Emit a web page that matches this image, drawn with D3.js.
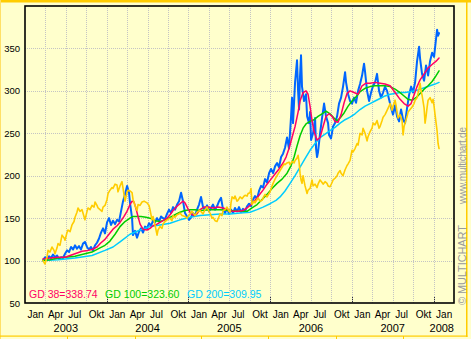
<!DOCTYPE html>
<html>
<head>
<meta charset="utf-8">
<script src="https://cdn.jsdelivr.net/npm/d3@7"></script>
<style>
  html, body { margin: 0; padding: 0; background: #ffffff; }
  svg { display: block; font-family: "Liberation Sans", Arial, sans-serif; }
</style>
</head>
<body>
<svg id="chart" width="471" height="339"></svg>
<script>
// ---- data: [decimal year, value] ----
const price = [[2003.220,100],[2003.245,104],[2003.269,101],[2003.294,105],[2003.318,103],[2003.343,107],[2003.367,104],[2003.392,106],[2003.416,102],[2003.441,104],[2003.465,103],[2003.490,108],[2003.514,112],[2003.539,110],[2003.563,116],[2003.588,113],[2003.612,118],[2003.636,114],[2003.661,117],[2003.685,113],[2003.710,120],[2003.734,122],[2003.759,116],[2003.783,113],[2003.808,116],[2003.832,112],[2003.857,118],[2003.881,121],[2003.906,126],[2003.930,133],[2003.955,138],[2003.979,132],[2004.004,145],[2004.028,150],[2004.053,142],[2004.077,147],[2004.102,143],[2004.126,148],[2004.151,146],[2004.175,158],[2004.200,170],[2004.224,178],[2004.249,188],[2004.273,180],[2004.285,168],[2004.310,150],[2004.322,130],[2004.346,135],[2004.371,127],[2004.395,134],[2004.420,138],[2004.444,133],[2004.469,140],[2004.493,138],[2004.518,144],[2004.542,141],[2004.567,147],[2004.591,145],[2004.616,150],[2004.640,146],[2004.665,152],[2004.689,150],[2004.714,149],[2004.738,155],[2004.763,160],[2004.787,156],[2004.812,163],[2004.836,160],[2004.861,166],[2004.885,170],[2004.910,180],[2004.934,170],[2004.958,156],[2004.983,152],[2005.007,148],[2005.032,151],[2005.056,156],[2005.081,153],[2005.105,160],[2005.130,166],[2005.154,175],[2005.179,163],[2005.203,160],[2005.228,165],[2005.252,158],[2005.277,162],[2005.301,166],[2005.326,160],[2005.350,164],[2005.375,170],[2005.399,174],[2005.424,160],[2005.448,156],[2005.473,162],[2005.497,155],[2005.522,160],[2005.546,156],[2005.570,162],[2005.595,158],[2005.619,163],[2005.644,157],[2005.668,161],[2005.693,158],[2005.717,164],[2005.742,167],[2005.766,164],[2005.791,172],[2005.815,176],[2005.840,173],[2005.864,182],[2005.889,188],[2005.913,186],[2005.938,196],[2005.962,192],[2005.987,203],[2006.011,208],[2006.036,203],[2006.060,211],[2006.085,215],[2006.109,210],[2006.134,222],[2006.158,226],[2006.182,233],[2006.207,245],[2006.231,232],[2006.256,270],[2006.268,292],[2006.280,262],[2006.305,310],[2006.329,336],[2006.342,300],[2006.354,278],[2006.366,318],[2006.378,342],[2006.390,305],[2006.415,288],[2006.439,296],[2006.452,270],[2006.476,262],[2006.488,275],[2006.501,242],[2006.525,250],[2006.550,268],[2006.562,232],[2006.574,222],[2006.586,228],[2006.611,250],[2006.635,268],[2006.660,285],[2006.684,270],[2006.709,262],[2006.721,248],[2006.745,244],[2006.770,258],[2006.794,262],[2006.819,270],[2006.843,285],[2006.868,292],[2006.892,305],[2006.917,322],[2006.929,310],[2006.954,296],[2006.978,288],[2007.002,285],[2007.027,292],[2007.051,286],[2007.076,300],[2007.100,308],[2007.125,318],[2007.149,332],[2007.162,322],[2007.186,300],[2007.211,288],[2007.235,298],[2007.260,306],[2007.284,310],[2007.308,320],[2007.333,300],[2007.357,292],[2007.382,298],[2007.406,305],[2007.431,300],[2007.455,290],[2007.480,280],[2007.504,272],[2007.529,283],[2007.553,270],[2007.578,264],[2007.602,278],[2007.627,266],[2007.651,262],[2007.676,280],[2007.700,295],[2007.725,305],[2007.749,298],[2007.774,310],[2007.798,335],[2007.823,352],[2007.835,338],[2007.859,320],[2007.884,312],[2007.908,330],[2007.933,318],[2007.957,335],[2007.982,345],[2008.006,340],[2008.031,362],[2008.043,372],[2008.055,365],[2008.067,368]];

const compare = [[2003.220,100],[2003.245,96],[2003.269,104],[2003.282,112],[2003.306,110],[2003.330,116],[2003.355,112],[2003.367,108],[2003.392,115],[2003.404,120],[2003.428,118],[2003.453,130],[2003.477,127],[2003.490,124],[2003.514,133],[2003.526,136],[2003.551,134],[2003.575,142],[2003.600,146],[2003.612,151],[2003.636,157],[2003.649,162],[2003.673,158],[2003.698,160],[2003.722,152],[2003.734,148],[2003.759,158],[2003.771,162],[2003.796,160],[2003.820,165],[2003.845,163],[2003.857,169],[2003.881,165],[2003.894,162],[2003.918,160],[2003.942,158],[2003.955,163],[2003.979,165],[2004.004,172],[2004.016,179],[2004.040,183],[2004.065,186],[2004.077,185],[2004.102,190],[2004.126,189],[2004.138,181],[2004.163,188],[2004.187,193],[2004.200,185],[2004.224,170],[2004.248,180],[2004.261,183],[2004.285,182],[2004.310,180],[2004.322,172],[2004.346,165],[2004.371,159],[2004.383,166],[2004.408,165],[2004.432,169],[2004.457,170],[2004.493,168],[2004.518,165],[2004.530,160],[2004.554,148],[2004.567,152],[2004.591,142],[2004.616,130],[2004.628,136],[2004.652,140],[2004.677,138],[2004.689,143],[2004.714,146],[2004.738,148],[2004.775,150],[2004.799,147],[2004.812,153],[2004.836,151],[2004.860,154],[2004.885,155],[2004.897,156],[2004.922,153],[2004.958,152],[2004.983,150],[2005.020,155],[2005.044,158],[2005.081,153],[2005.105,157],[2005.142,159],[2005.179,155],[2005.203,160],[2005.228,163],[2005.252,158],[2005.264,156],[2005.289,150],[2005.301,151],[2005.326,147],[2005.350,146],[2005.375,152],[2005.387,155],[2005.411,153],[2005.424,159],[2005.448,160],[2005.472,163],[2005.497,158],[2005.509,157],[2005.521,168],[2005.534,175],[2005.558,173],[2005.570,176],[2005.595,170],[2005.607,171],[2005.632,175],[2005.656,173],[2005.681,176],[2005.693,177],[2005.717,176],[2005.730,179],[2005.754,180],[2005.766,185],[2005.778,166],[2005.803,170],[2005.815,168],[2005.840,172],[2005.852,174],[2005.876,170],[2005.901,171],[2005.925,176],[2005.938,178],[2005.962,175],[2005.987,179],[2005.999,181],[2006.023,188],[2006.036,191],[2006.060,196],[2006.084,200],[2006.109,204],[2006.121,206],[2006.146,210],[2006.170,214],[2006.182,213],[2006.207,215],[2006.231,216],[2006.244,213],[2006.268,217],[2006.293,215],[2006.305,218],[2006.329,221],[2006.342,224],[2006.354,216],[2006.366,203],[2006.378,195],[2006.390,191],[2006.403,200],[2006.415,194],[2006.427,188],[2006.452,179],[2006.464,183],[2006.488,185],[2006.501,190],[2006.513,195],[2006.525,188],[2006.550,190],[2006.574,186],[2006.586,190],[2006.611,195],[2006.635,192],[2006.648,190],[2006.672,193],[2006.696,191],[2006.709,188],[2006.733,187],[2006.758,192],[2006.770,195],[2006.794,197],[2006.819,200],[2006.831,203],[2006.856,206],[2006.868,203],[2006.892,200],[2006.917,207],[2006.941,212],[2006.954,214],[2006.978,218],[2007.002,230],[2007.015,228],[2007.039,232],[2007.064,238],[2007.076,236],[2007.100,250],[2007.125,248],[2007.137,256],[2007.162,250],[2007.186,241],[2007.198,246],[2007.223,252],[2007.247,256],[2007.260,262],[2007.284,260],[2007.308,265],[2007.333,256],[2007.345,258],[2007.370,265],[2007.382,269],[2007.406,272],[2007.431,277],[2007.455,282],[2007.468,285],[2007.492,277],[2007.504,282],[2007.529,289],[2007.541,283],[2007.553,275],[2007.566,268],[2007.590,272],[2007.614,265],[2007.627,248],[2007.639,258],[2007.651,262],[2007.676,270],[2007.688,275],[2007.712,278],[2007.737,281],[2007.761,285],[2007.774,289],[2007.798,292],[2007.810,297],[2007.823,303],[2007.835,309],[2007.847,300],[2007.859,295],[2007.884,280],[2007.896,262],[2007.908,270],[2007.920,280],[2007.933,289],[2007.957,292],[2007.982,286],[2007.994,290],[2008.006,282],[2008.018,272],[2008.031,262],[2008.043,253],[2008.055,238],[2008.067,232]];

const gd38 = [[2003.220,102],[2003.306,103],[2003.404,104],[2003.490,104],[2003.551,106],[2003.612,108],[2003.698,111],[2003.771,112],[2003.820,113],[2003.881,116],[2003.930,121],[2003.979,125],[2004.028,131],[2004.077,137],[2004.126,141],[2004.163,145],[2004.212,152],[2004.248,158],[2004.285,166],[2004.310,170],[2004.334,169],[2004.359,161],[2004.383,152],[2004.408,143],[2004.444,137],[2004.493,136],[2004.530,138],[2004.567,141],[2004.616,143],[2004.652,145],[2004.689,147],[2004.738,150],[2004.775,154],[2004.812,159],[2004.860,164],[2004.897,167],[2004.934,170],[2004.958,168],[2004.995,161],[2005.032,155],[2005.069,153],[2005.105,155],[2005.142,160],[2005.191,163],[2005.240,163],[2005.301,162],[2005.362,163],[2005.424,162],[2005.485,160],[2005.546,158],[2005.607,158],[2005.668,159],[2005.717,162],[2005.766,166],[2005.815,171],[2005.864,177],[2005.913,183],[2005.962,190],[2006.011,196],[2006.060,202],[2006.109,208],[2006.158,215],[2006.195,222],[2006.231,232],[2006.268,245],[2006.305,258],[2006.342,275],[2006.366,288],[2006.403,298],[2006.439,300],[2006.464,296],[2006.488,282],[2006.513,265],[2006.537,252],[2006.574,242],[2006.611,245],[2006.648,258],[2006.684,270],[2006.721,273],[2006.758,270],[2006.794,264],[2006.831,263],[2006.868,272],[2006.905,286],[2006.941,297],[2006.978,300],[2007.027,298],[2007.076,296],[2007.125,306],[2007.174,309],[2007.223,309],[2007.284,310],[2007.345,309],[2007.406,308],[2007.468,306],[2007.529,298],[2007.590,290],[2007.639,285],[2007.688,282],[2007.725,285],[2007.761,295],[2007.798,305],[2007.835,313],[2007.884,320],[2007.933,327],[2007.982,331],[2008.031,335],[2008.067,338.74]];

const gd100 = [[2003.220,100],[2003.306,101],[2003.404,103],[2003.490,104],[2003.612,105],[2003.734,108],[2003.820,110],[2003.918,115],[2003.979,118],[2004.040,123],[2004.102,131],[2004.163,140],[2004.224,146],[2004.285,150],[2004.322,152],[2004.371,152],[2004.420,152],[2004.481,151],[2004.530,150],[2004.591,147],[2004.652,146],[2004.714,148],[2004.775,151],[2004.836,154],[2004.897,157],[2004.958,159],[2005.020,160],[2005.081,160],[2005.142,159],[2005.264,160],[2005.387,160],[2005.509,159],[2005.632,158],[2005.717,158],[2005.778,162],[2005.840,166],[2005.901,172],[2005.962,178],[2006.023,185],[2006.084,191],[2006.146,196],[2006.207,203],[2006.256,212],[2006.293,222],[2006.329,235],[2006.366,247],[2006.403,256],[2006.439,261],[2006.488,264],[2006.537,266],[2006.586,270],[2006.635,273],[2006.684,276],[2006.733,273],[2006.782,268],[2006.819,265],[2006.856,268],[2006.905,274],[2006.954,282],[2007.002,288],[2007.051,293],[2007.100,299],[2007.162,303],[2007.223,305],[2007.284,306],[2007.345,306],[2007.406,306],[2007.468,305],[2007.529,302],[2007.590,298],[2007.639,294],[2007.688,290],[2007.737,289],[2007.786,292],[2007.835,297],[2007.884,302],[2007.933,306],[2007.982,311],[2008.018,316],[2008.067,323.60]];

const gd200 = [[2003.220,100],[2003.404,101],[2003.612,103],[2003.820,106],[2003.979,112],[2004.077,116],[2004.163,122],[2004.285,131],[2004.408,136],[2004.530,140],[2004.652,142],[2004.775,144],[2004.897,148],[2005.020,151],[2005.142,153],[2005.264,154],[2005.387,155],[2005.509,155],[2005.632,156],[2005.754,157],[2005.840,160],[2005.913,163],[2005.999,167],[2006.072,171],[2006.121,175],[2006.182,182],[2006.244,191],[2006.305,200],[2006.366,210],[2006.427,220],[2006.488,230],[2006.550,238],[2006.611,245],[2006.672,249],[2006.733,253],[2006.794,257],[2006.856,262],[2006.917,266],[2006.978,269],[2007.039,273],[2007.100,278],[2007.162,282],[2007.223,285],[2007.284,288],[2007.345,291],[2007.406,294],[2007.468,296],[2007.529,297],[2007.590,298],[2007.651,298],[2007.712,299],[2007.774,300],[2007.835,302],[2007.896,304],[2007.957,306],[2008.018,308],[2008.067,309.95]];

const yTicks = [50, 100, 150, 200, 250, 300, 350];
const monthLabels = ["Jan", "Apr", "Jul", "Okt"];
const yearLabels = [2003, 2004, 2005, 2006, 2007, 2008];

const averages = [
  { name: "GD 38", data: gd38, color: "#ff0066" },
  { name: "GD 100", data: gd100, color: "#00cc00" },
  { name: "GD 200", data: gd200, color: "#00ccff" }
];

// ---- layout ----
const W = 471, H = 339;
const plot = { left: 25, top: 6, right: 454, bottom: 303 };
const bg = "#ffffcc", gold = "#ffcc00";

const svg = d3.select("#chart");

// page background and frame
svg.append("rect").attr("x", 0).attr("y", 0).attr("width", W).attr("height", H).attr("fill", bg);
svg.append("rect").attr("x", 0).attr("y", 0).attr("width", W).attr("height", 2.5).attr("fill", gold);
svg.append("rect").attr("x", 0).attr("y", 0).attr("width", 1).attr("height", H).attr("fill", "#ffe066");
svg.append("rect").attr("x", 466).attr("y", 0).attr("width", 1.5).attr("height", 337).attr("fill", gold);
svg.append("rect").attr("x", 0).attr("y", 335.5).attr("width", 467.5).attr("height", 1.2).attr("fill", gold);
[67, 135, 201, 268, 336, 403].forEach(px => {
  svg.append("rect").attr("x", px).attr("y", 336).attr("width", 1).attr("height", 3).attr("fill", gold);
});

// scales
const x = d3.scaleLinear().domain([2003, 2008.25]).range([plot.left, plot.right]);
const y = d3.scaleLinear().domain([50, 400]).range([plot.bottom, plot.top]);

const quarters = d3.range(2003, 2008.01, 0.25);

// grid
const grid = svg.append("g").attr("stroke", "#c4c4c4").attr("stroke-width", 1).attr("stroke-dasharray", "1,1");
quarters.filter(q => q > 2003 && q < 2008.25).forEach(q => {
  const px = Math.round(x(q)) + 0.5;
  grid.append("line").attr("x1", px).attr("x2", px).attr("y1", plot.top).attr("y2", plot.bottom);
});
yTicks.filter(v => v > 50).forEach(v => {
  const py = Math.round(y(v)) + 0.5;
  grid.append("line").attr("x1", plot.left).attr("x2", plot.right).attr("y1", py).attr("y2", py);
});

// darker year marks along the bottom edge
yearLabels.filter(yr => yr > 2003).forEach(yr => {
  const px = Math.round(x(yr)) + 0.5;
  svg.append("line").attr("x1", px).attr("x2", px).attr("y1", plot.bottom - 6).attr("y2", plot.bottom)
    .attr("stroke", "#333").attr("stroke-dasharray", "1,1");
});

// series
const clip = svg.append("clipPath").attr("id", "plotclip").append("rect")
  .attr("x", plot.left).attr("y", plot.top).attr("width", plot.right - plot.left).attr("height", plot.bottom - plot.top);
const lines = svg.append("g").attr("clip-path", "url(#plotclip)").attr("fill", "none")
  .attr("stroke-linejoin", "round").attr("stroke-linecap", "round");
const line = d3.line().x(d => x(d[0])).y(d => y(d[1]));

lines.append("path").attr("d", line(price)).attr("stroke", "#0066ff").attr("stroke-width", 2);
[...averages].reverse().forEach(a => {
  lines.append("path").attr("d", line(a.data)).attr("stroke", a.color).attr("stroke-width", 1.5);
});
lines.append("path").attr("d", line(compare)).attr("stroke", gold).attr("stroke-width", 1.6);

// plot border
svg.append("rect").attr("x", plot.left).attr("y", plot.top)
  .attr("width", plot.right - plot.left).attr("height", plot.bottom - plot.top)
  .attr("fill", "none").attr("stroke", "#000").attr("stroke-width", 1.6);

// y axis
const yAxis = svg.append("g").attr("transform", `translate(${plot.left},0)`)
  .call(d3.axisLeft(y).tickValues(yTicks).tickSize(0).tickPadding(5));
yAxis.select(".domain").remove();
yAxis.selectAll("text").attr("font-size", "9.5px").attr("fill", "#000")
  .attr("font-family", "'Liberation Sans', Arial, sans-serif");

// x axis: month labels start at each quarter
const xAxis = svg.append("g").attr("transform", `translate(0,${plot.bottom})`)
  .call(d3.axisBottom(x).tickValues(quarters).tickSize(0)
    .tickFormat(q => monthLabels[Math.round((q % 1) * 4)]));
xAxis.select(".domain").remove();
xAxis.selectAll("text").attr("text-anchor", "start").attr("dx", 2).attr("y", 15).attr("dy", 0)
  .attr("font-size", "10px").attr("fill", "#000")
  .attr("font-family", "'Liberation Sans', Arial, sans-serif");

// year labels
svg.append("g").selectAll("text").data(yearLabels).join("text")
  .attr("x", yr => yr < 2008 ? x(yr + 0.5) : plot.right)
  .attr("y", 332)
  .attr("text-anchor", yr => yr < 2008 ? "middle" : "end")
  .attr("font-size", "11px").attr("fill", "#000")
  .text(yr => yr);

// legend with the latest moving-average values
const legendX = [29, 105, 187];
svg.append("g").selectAll("text").data(averages).join("text")
  .attr("x", (d, i) => legendX[i]).attr("y", 298)
  .attr("font-size", "10.5px").attr("fill", d => d.color)
  .text(d => `${d.name}=${d.data[d.data.length - 1][1].toFixed(2)}`);

// vertical credits on the right
svg.append("text").attr("transform", "translate(465.5,305) rotate(-90)")
  .attr("font-size", "11px").attr("fill", "#9a9a9a").attr("textLength", 80)
  .text("© MULTICHART");
svg.append("text").attr("transform", "translate(465.5,204) rotate(-90)")
  .attr("font-size", "10px").attr("fill", "#9a9a9a").attr("textLength", 77)
  .text("www.multichart.de");
</script>
</body>
</html>
